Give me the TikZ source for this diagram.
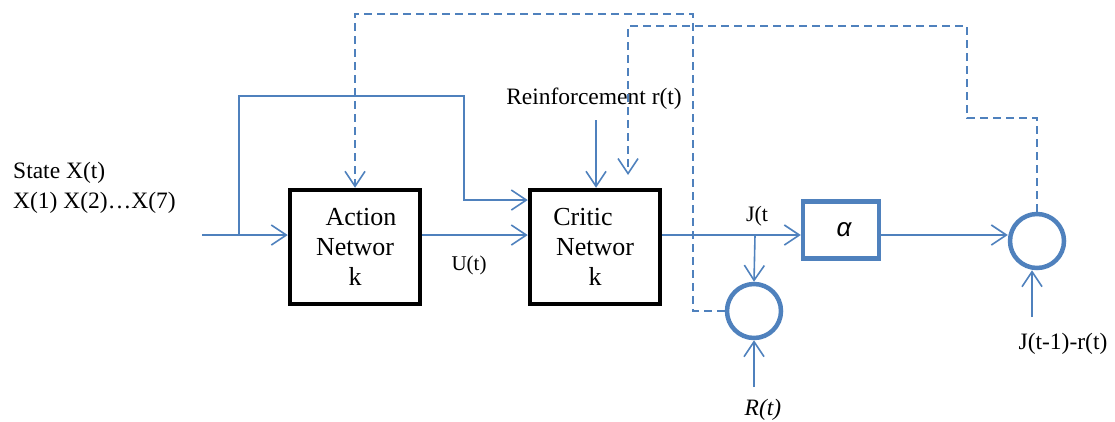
\documentclass[tikz,border=0pt]{standalone}
\usepackage{fontspec}
\setmainfont{Liberation Serif}
\newfontfamily\alphafont{Liberation Sans}
\usetikzlibrary{arrows.meta}
\definecolor{lineblue}{RGB}{79,129,189}
\tikzset{
  conn/.style={draw=lineblue, line width=1.6pt, -{Straight Barb[length=15pt,width=20pt,line width=1.6pt]}},
  plain/.style={draw=lineblue, line width=1.6pt},
  dconn/.style={conn, dash pattern=on 8pt off 5pt},
  dplain/.style={plain, dash pattern=on 8pt off 5pt},
  netbox/.style={draw=black, line width=4.5pt, minimum width=130pt, minimum height=114pt, inner sep=0pt, align=center, font=\fontsize{26}{30}\selectfont},
  alphabox/.style={draw=lineblue, line width=4.5pt, minimum width=76pt, minimum height=57pt, inner sep=0pt},
  sumnode/.style={draw=lineblue, line width=4.5pt, circle, minimum size=54pt, inner sep=0pt},
  lbl/.style={inner sep=0pt, font=\fontsize{23.5}{30}\selectfont},
}
\begin{document}
\begin{tikzpicture}[x=1pt, y=-1pt]
\useasboundingbox (0,0) rectangle (1115,421);
% boxes
\node[netbox] (act) at (355,247) {\hspace*{12pt}Action\\Networ\\k};
\node[netbox] (crit) at (595,247) {Critic\hspace*{24pt}\\Networ\\k};
\node[alphabox] (alpha) at (841,230) {\fontsize{26}{30}\selectfont\alphafont\itshape\hspace*{6pt}α};
\node[sumnode] (s1) at (754,311) {};
\node[sumnode] (s2) at (1037,241) {};
% labels
\node[lbl, anchor=base west, align=left] (state) at (13,208) {State X(t)\\X(1) X(2)\ldots X(7)};
\node[lbl, anchor=base] (reinf) at (594,104) {Reinforcement r(t)};
\node[lbl, anchor=base, font=\fontsize{21}{24}\selectfont] (ut) at (469,270) {U(t)};
\node[lbl, anchor=base, font=\fontsize{22}{24}\selectfont] (jt) at (757,221) {J(t};
\node[lbl, anchor=base, font=\fontsize{23.5}{28}\selectfont\itshape] (rt) at (763,415) {R(t)};
\node[lbl, anchor=base] (jt1) at (1063,349) {J(t-1)-r(t)};
% coordinates
\coordinate (in) at (202,235);
\coordinate (br1) at (239,235);
\coordinate (rin) at (596,120);
\coordinate (rtin) at (754,387);
\coordinate (jin) at (1032,317);
\coordinate (jbr) at (755,235);
\coordinate (d2end) at (628,175);
% solid connectors
\draw[conn] (in) -- (act.west |- in);
\draw[conn] (br1) -- (239,96) -- (464,96) -- (464,200) -- (crit.west |- 0,200);
\draw[conn] (act.east |- 0,235) -- (crit.west |- 0,235);
\draw[conn] (rin) -- (crit.north -| rin);
\draw[conn] (crit.east |- 0,235) -- (alpha.west |- 0,235);
\draw[conn] (jbr) -- (s1.north);
\draw[conn] (rtin) -- (s1.south);
\draw[conn] (alpha.east |- 0,235) -- (s2.west |- 0,235);
\draw[conn] (jin) -- (s2.south -| jin);
% dashed connectors
\draw[dconn] (s1.west) -- (693,311) -- (693,14) -- (355,14) -- (act.north -| 355,0);
\draw[dconn] (s2.north) -- (1037,118) -- (967,118) -- (967,26) -- (628,26) -- (d2end);
\end{tikzpicture}
\end{document}
